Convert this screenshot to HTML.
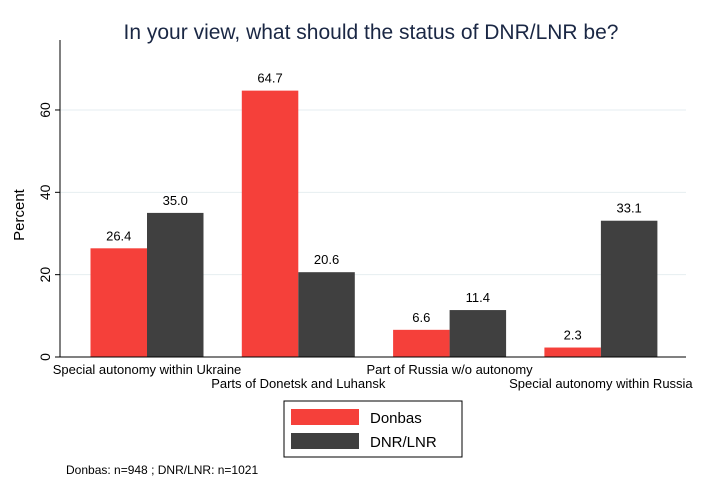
<!DOCTYPE html>
<html><head><meta charset="utf-8"><style>
body{margin:0;background:#fff;width:710px;height:485px;overflow:hidden}
svg{font-family:"Liberation Sans",Arial,sans-serif}
</style></head><body>
<svg id="chart" width="710" height="485">
<text x="371" y="39" text-anchor="middle" font-size="21" fill="#1a2744">In your view, what should the status of DNR/LNR be?</text>
<g id="grid"></g>
<g id="bars"></g>
<line x1="60" y1="40" x2="60" y2="357" stroke="#000" stroke-width="1"/>
<line x1="60" y1="357" x2="686" y2="357" stroke="#000" stroke-width="1"/>
<text transform="translate(24,215) rotate(-90)" text-anchor="middle" font-size="15" fill="#000">Percent</text>
<g>
<rect x="284" y="401" width="178" height="56" fill="#fff" stroke="#000"/>
<rect x="291" y="409" width="68" height="16" fill="#f5403a"/>
<text x="370" y="423" font-size="15">Donbas</text>
<rect x="291" y="433" width="68" height="16" fill="#404040"/>
<text x="370" y="447" font-size="15">DNR/LNR</text>
</g>
<text x="66" y="474" font-size="12">Donbas: n=948 ; DNR/LNR: n=1021</text>
</svg>
<script>
const categories=["Special autonomy within Ukraine","Parts of Donetsk and Luhansk","Part of Russia w/o autonomy","Special autonomy within Russia"];
const donbas=[26.4,64.7,6.6,2.3];
const dnrlnr=[35.0,20.6,11.4,33.1];
const yTicks=[0,20,40,60];
const NS="http://www.w3.org/2000/svg";
const y=v=>357-v*4.117;
const xc=i=>147+i*151.3;
const bw=56.5;
function mk(t,a,p){const e=document.createElementNS(NS,t);for(const k in a)e.setAttribute(k,a[k]);p.appendChild(e);return e;}
const grid=document.getElementById('grid'),bars=document.getElementById('bars'),svg=document.getElementById('chart');
yTicks.forEach(t=>{
 if(t>0){const g=mk('line',{x1:60,x2:686,y1:y(t),y2:y(t),stroke:'#e6eef0','stroke-width':1},grid);
 
 }
 const tk=mk('line',{x1:55,x2:60,y1:y(t),y2:y(t),stroke:'#000'},svg);
 
 
 const lb=mk('text',{transform:`translate(50,${y(t)}) rotate(-90)`,'text-anchor':'middle','font-size':14},svg);
 lb.textContent=t;
 
 
});
categories.forEach((c,i)=>{
 [[donbas,'#f5403a',-bw],[dnrlnr,'#404040',0]].forEach(([arr,col,off],s)=>{
  const v=arr[i];
  const r=mk('rect',{x:xc(i)+off,y:y(v),width:bw,height:357-y(v),fill:col},bars);
  
  
  const t=mk('text',{x:xc(i)+off+bw/2,y:y(v)-8,'text-anchor':'middle','font-size':13},bars);
  t.textContent=v.toFixed(1);
  
  
 });
 const cl=mk('text',{x:xc(i),y:i%2?388:374,'text-anchor':'middle','font-size':13},svg);
 cl.textContent=c;
 
 
});
</script>
</body></html>
